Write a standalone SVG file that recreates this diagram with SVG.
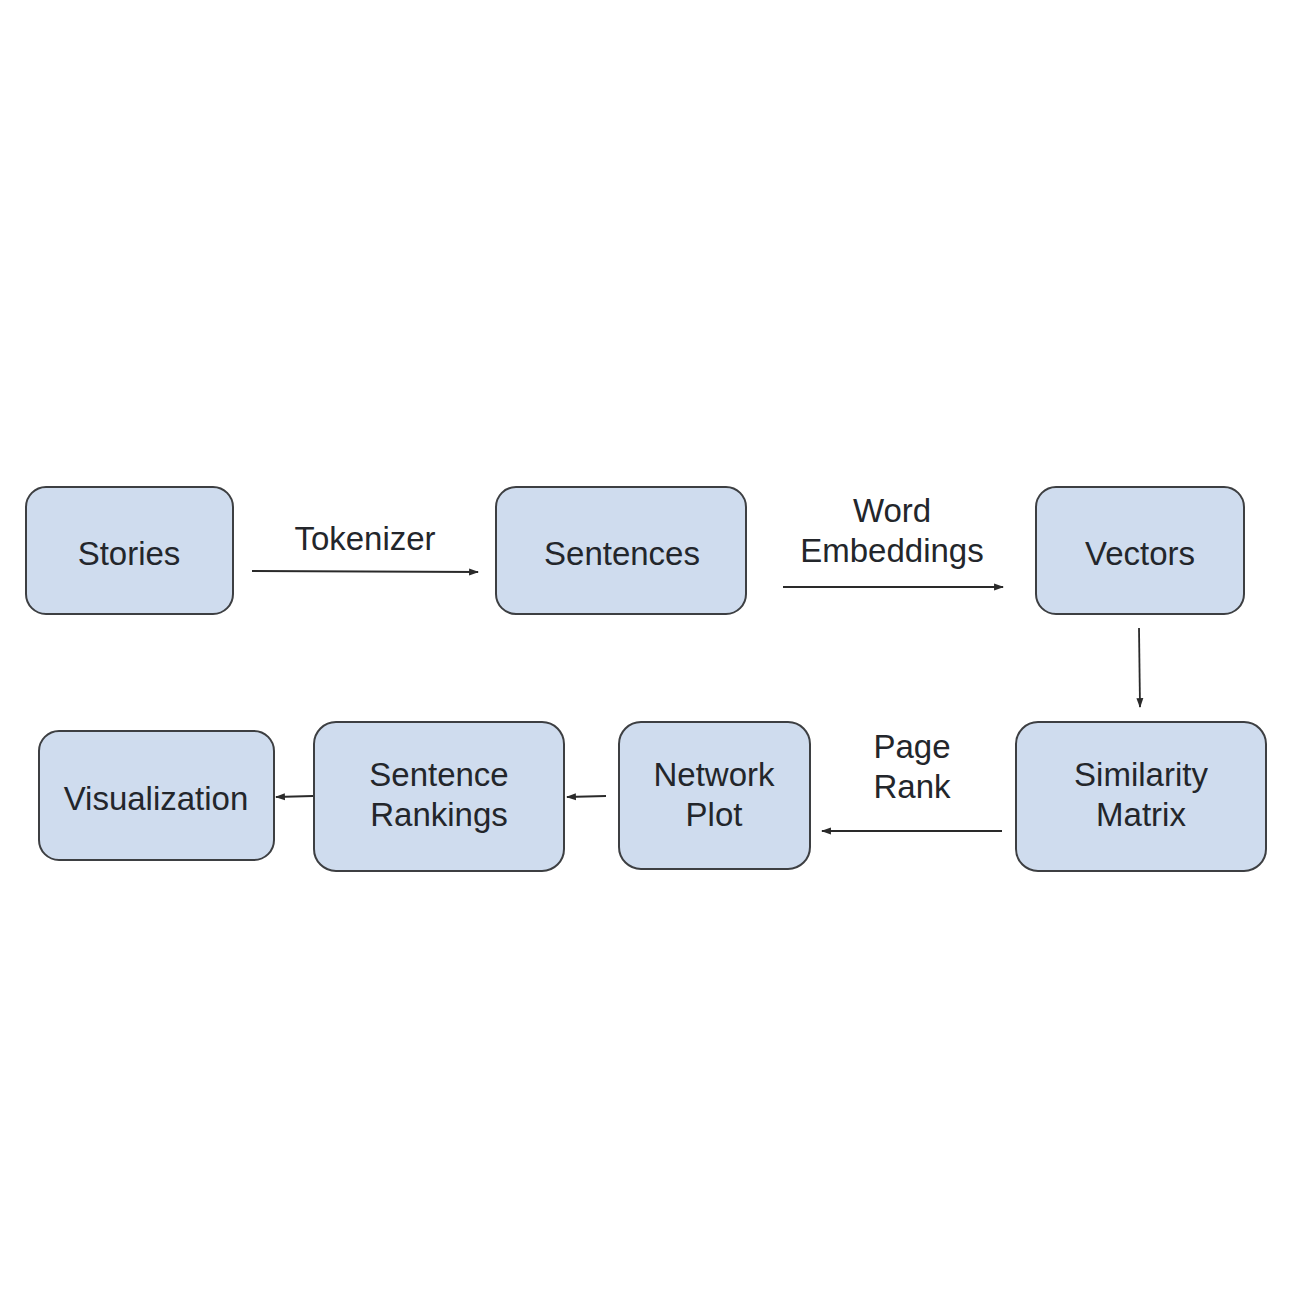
<svg xmlns="http://www.w3.org/2000/svg" width="1313" height="1313" viewBox="0 0 1313 1313">
<defs>
<style>
.node rect{fill:#cfdcee;stroke:#3d3f42;stroke-width:2}
text{font-family:"Liberation Sans",Arial,sans-serif;font-size:33px;fill:#23262b;text-anchor:middle}
.conn line{stroke:#2a2a2a;stroke-width:1.8;marker-end:url(#ah)}
</style>
<marker id="ah" viewBox="0 0 10 10" refX="9" refY="5" markerWidth="5.5" markerHeight="5.5" orient="auto" markerUnits="strokeWidth">
<path d="M0,1.5 L10,5 L0,8.5 Z" fill="#2a2a2a"/>
</marker>
</defs>
<rect width="1313" height="1313" fill="#ffffff"/>
<g class="conn" id="connectors">
<line x1="252" y1="571" x2="478" y2="572"/>
<line x1="783" y1="587" x2="1003" y2="587"/>
<line x1="1139" y1="628" x2="1140" y2="707"/>
<line x1="1002" y1="831" x2="822" y2="831"/>
<line x1="606" y1="796" x2="567" y2="797"/>
<line x1="313" y1="796" x2="276" y2="797"/>
</g>
<g id="labels">
<text x="365" y="550">Tokenizer</text>
<text x="892" y="522">Word</text>
<text x="892" y="562">Embeddings</text>
<text x="912" y="758">Page</text>
<text x="912" y="798">Rank</text>
</g>
<g class="node" id="stories"><rect x="26" y="487" width="207" height="127" rx="20"/><text x="129" y="565">Stories</text></g>
<g class="node" id="sentences"><rect x="496" y="487" width="250" height="127" rx="20"/><text x="622" y="565">Sentences</text></g>
<g class="node" id="vectors"><rect x="1036" y="487" width="208" height="127" rx="20"/><text x="1140" y="565">Vectors</text></g>
<g class="node" id="similarity"><rect x="1016" y="722" width="250" height="149" rx="22"/><text x="1141" y="786">Similarity</text><text x="1141" y="826">Matrix</text></g>
<g class="node" id="network"><rect x="619" y="722" width="191" height="147" rx="22"/><text x="714" y="786">Network</text><text x="714" y="826">Plot</text></g>
<g class="node" id="rankings"><rect x="314" y="722" width="250" height="149" rx="22"/><text x="439" y="786">Sentence</text><text x="439" y="826">Rankings</text></g>
<g class="node" id="visualization"><rect x="39" y="731" width="235" height="129" rx="20"/><text x="156" y="810">Visualization</text></g>
</svg>
